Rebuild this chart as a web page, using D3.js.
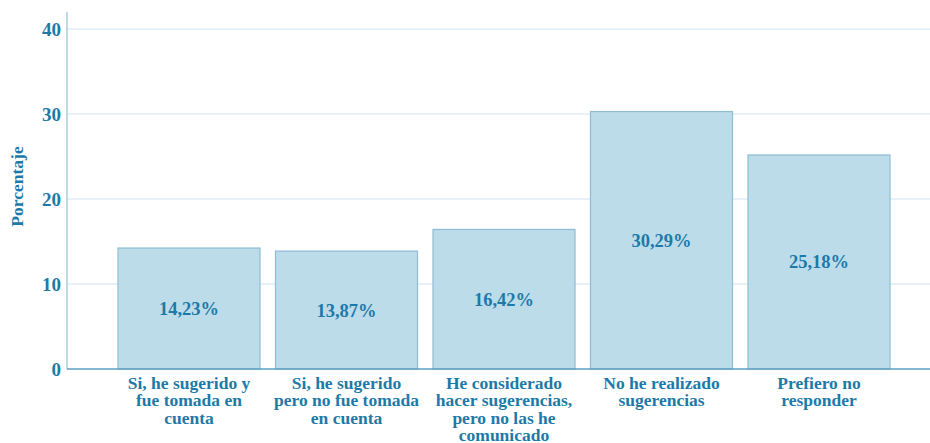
<!DOCTYPE html>
<html>
<head>
<meta charset="utf-8">
<script src="https://cdn.jsdelivr.net/npm/d3@7/dist/d3.min.js"></script>
<style>
  html, body { margin: 0; padding: 0; background: #fff; }
</style>
</head>
<body>
<svg id="chart" width="930" height="443"></svg>
<script>
// Survey answers and their shares (%)
const categories = [
  ["Si, he sugerido y", "fue tomada en", "cuenta"],
  ["Si, he sugerido", "pero no fue tomada", "en cuenta"],
  ["He considerado", "hacer sugerencias,", "pero no las he", "comunicado"],
  ["No he realizado", "sugerencias"],
  ["Prefiero no", "responder"]
];
const values = [14.23, 13.87, 16.42, 30.29, 25.18];
const valueLabels = ["14,23%", "13,87%", "16,42%", "30,29%", "25,18%"];
const yTicks = [0, 10, 20, 30, 40];
const yTitle = "Porcentaje";

const svg = d3.select("#chart");
const plotLeft = 67, plotRight = 930, plotTop = 12, plotBottom = 369;
const serif = "Liberation Serif";
const textColor = "#1d7aa8";

const y = d3.scaleLinear().domain([0, 40]).range([plotBottom, 29]);
const x = d3.scaleBand()
  .domain(d3.range(values.length))
  .range([110.25, 897.75])
  .paddingInner(0.0984)
  .paddingOuter(0.0492);

// horizontal gridlines
svg.append("g").selectAll("line")
  .data(yTicks.filter(t => t > 0))
  .join("line")
  .attr("x1", plotLeft).attr("x2", plotRight)
  .attr("y1", d => y(d)).attr("y2", d => y(d))
  .attr("stroke", "#cfe4ef").attr("stroke-width", 1.2);

// bars
svg.append("g").selectAll("rect")
  .data(values)
  .join("rect")
  .attr("x", (d, i) => x(i))
  .attr("width", x.bandwidth())
  .attr("y", d => y(d))
  .attr("height", d => plotBottom - y(d))
  .attr("fill", "#bcdcea")
  .attr("stroke", "#8dbdd4")
  .attr("stroke-width", 1.2);

// value labels in the middle of each bar
svg.append("g").selectAll("text")
  .data(values)
  .join("text")
  .attr("x", (d, i) => x(i) + x.bandwidth() / 2)
  .attr("y", d => (y(d) + plotBottom) / 2)
  .attr("dy", "0.35em")
  .attr("text-anchor", "middle")
  .attr("font-family", serif)
  .attr("font-weight", "bold")
  .attr("font-size", 18.5)
  .attr("fill", textColor)
  .text((d, i) => valueLabels[i]);

// y axis
const yAxis = svg.append("g")
  .attr("transform", `translate(${plotLeft},0)`)
  .call(d3.axisLeft(y).tickValues(yTicks).tickSize(0).tickPadding(6).tickFormat(d3.format("d")));
yAxis.select(".domain").remove();
yAxis.attr("font-family", serif).attr("font-size", 19).attr("font-weight", "bold");
yAxis.selectAll("text").attr("fill", textColor);
svg.append("line")
  .attr("x1", plotLeft).attr("x2", plotLeft)
  .attr("y1", plotTop).attr("y2", plotBottom)
  .attr("stroke", "#a8cde0").attr("stroke-width", 1.5);

// baseline
svg.append("line")
  .attr("x1", plotLeft).attr("x2", plotRight)
  .attr("y1", plotBottom).attr("y2", plotBottom)
  .attr("stroke", "#5d9fc2").attr("stroke-width", 1.5);

// category labels, wrapped onto several lines
const xl = svg.append("g").selectAll("text")
  .data(categories)
  .join("text")
  .attr("text-anchor", "middle")
  .attr("font-family", serif)
  .attr("font-weight", "bold")
  .attr("font-size", 17.5)
  .attr("fill", textColor)
  .attr("transform", (d, i) => `translate(${x(i) + x.bandwidth() / 2},${plotBottom + 19.5})`);
xl.selectAll("tspan")
  .data(d => d)
  .join("tspan")
  .attr("x", 0)
  .attr("y", (d, j) => j * 17.5)
  .text(d => d);

// y axis title
svg.append("text")
  .attr("transform", `translate(23,${(plotTop + plotBottom) / 2 - 4}) rotate(-90)`)
  .attr("text-anchor", "middle")
  .attr("font-family", serif)
  .attr("font-weight", "bold")
  .attr("font-size", 17.5)
  .attr("fill", textColor)
  .text(yTitle);
</script>
</body>
</html>
